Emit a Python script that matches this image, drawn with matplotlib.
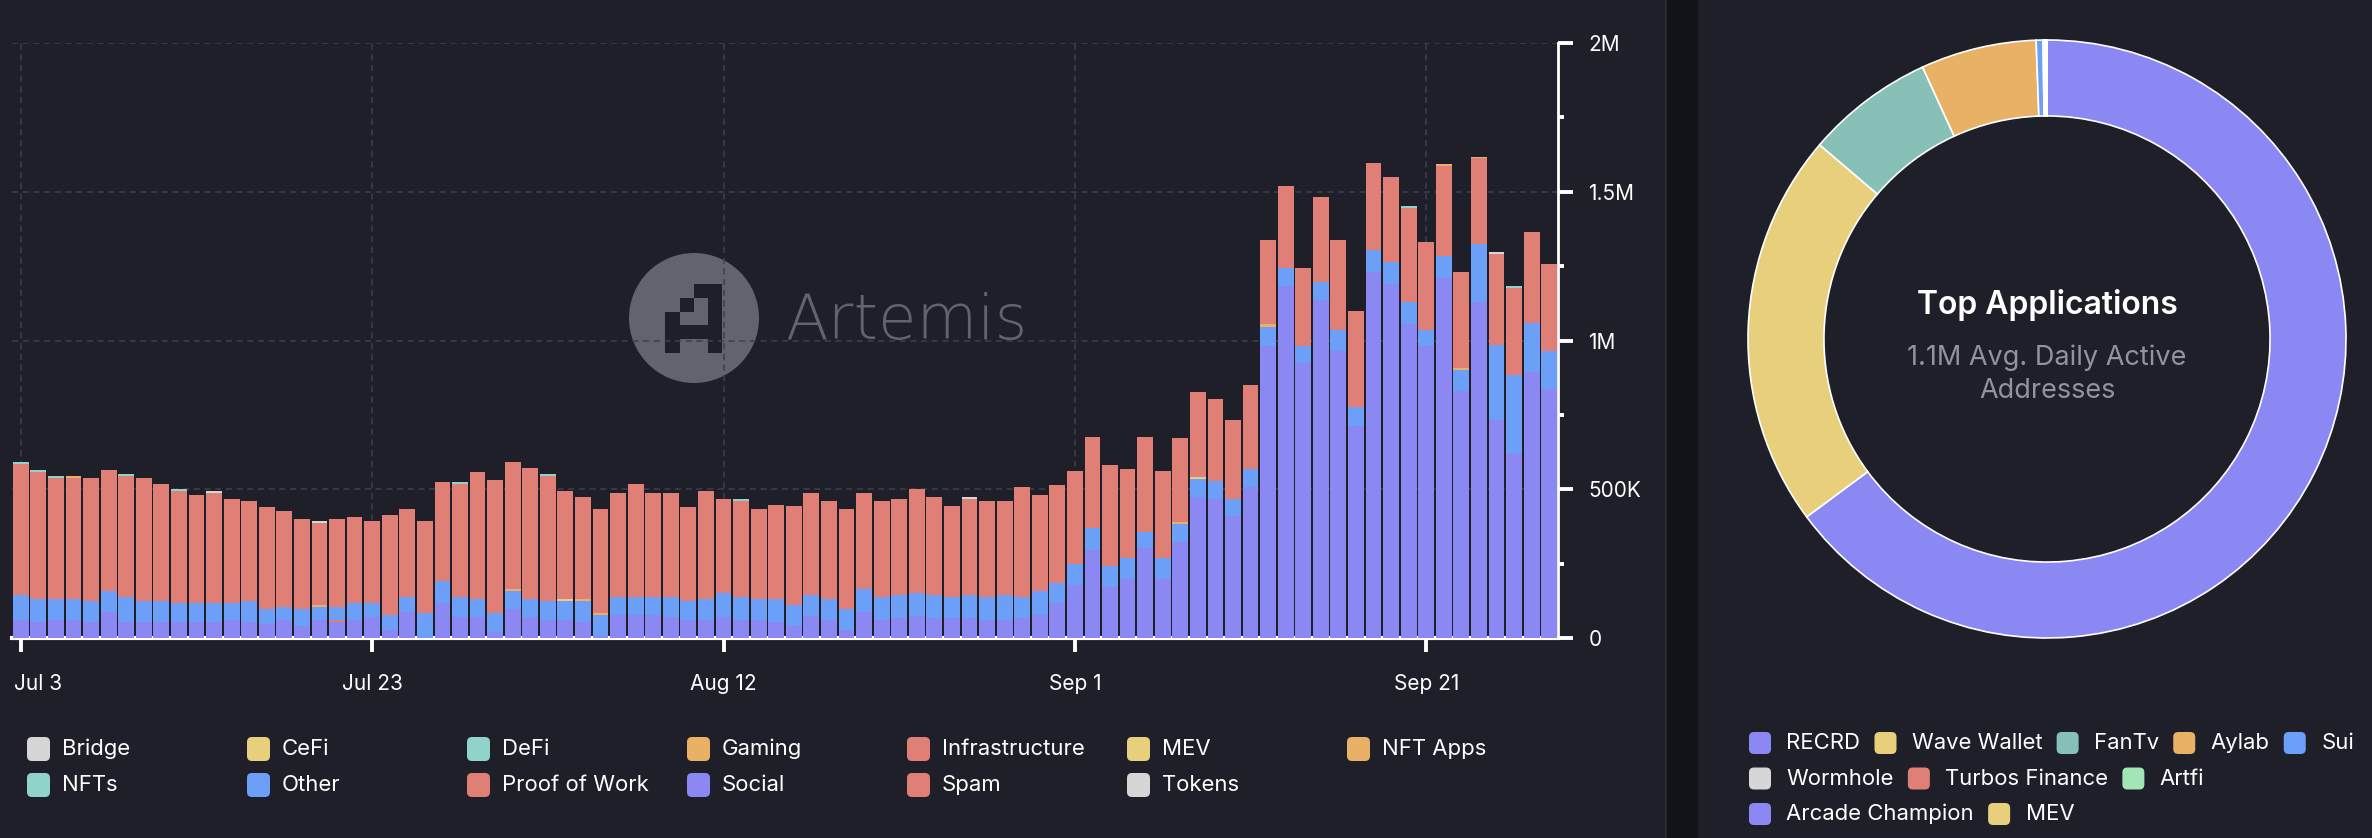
import numpy as np
import pandas as pd
import matplotlib
matplotlib.use("Agg")
import matplotlib.pyplot as plt
from matplotlib.patches import Circle, Rectangle, FancyBboxPatch
from matplotlib.ticker import FuncFormatter, MultipleLocator
from matplotlib.transforms import ScaledTranslation

plt.rcParams['font.family'] = ['Inter', 'DejaVu Sans']

BG = '#1e1f29'

# daily active addresses by category, thousands (Jul 3 .. Sep 28)
dates = pd.date_range('2024-07-03', '2024-09-28', freq='D')

social = [62, 55, 62, 62, 55, 89, 55, 55, 55, 55, 55, 55, 62, 55, 48, 62, 41, 62, 55, 62,
          69, 28, 89, 0, 117, 69, 69, 21, 96, 69, 62, 62, 55, 7, 76, 76, 76, 69, 62, 62,
          69, 62, 62, 55, 41, 75, 62, 27, 89, 62, 68, 75, 68, 68, 68, 62, 62, 68, 77, 117,
          179, 295, 172, 200, 302, 200, 323, 473, 466, 411, 507, 980, 1183, 926, 1135, 966,
          711, 1230, 1190, 1054, 980, 1210, 831, 1128, 732, 623, 895, 838]
other = [83, 76, 69, 69, 69, 69, 83, 69, 69, 62, 62, 62, 55, 69, 48, 41, 55, 41, 41, 55,
         48, 48, 49, 83, 76, 69, 62, 62, 62, 62, 62, 62, 69, 69, 62, 62, 62, 69, 62, 69,
         82, 76, 69, 76, 69, 69, 68, 69, 75, 75, 76, 76, 76, 69, 76, 75, 82, 69, 82, 69,
         69, 75, 69, 68, 55, 68, 61, 61, 61, 55, 61, 67, 60, 54, 61, 68, 67, 74, 73, 74,
         54, 73, 69, 196, 253, 262, 165, 128]
spam = [440, 426, 406, 406, 413, 406, 406, 413, 392, 378, 365, 372, 351, 337, 344, 324, 303, 275, 296, 289,
        275, 337, 295, 309, 330, 378, 426, 447, 427, 440, 420, 364, 344, 350, 351, 378, 351, 351, 316, 364,
        317, 323, 302, 316, 335, 342, 329, 336, 322, 322, 322, 349, 329, 308, 322, 322, 315, 370, 321, 328,
        314, 307, 341, 300, 320, 294, 280, 286, 278, 266, 284, 283, 275, 263, 288, 303, 322, 294, 288, 316,
        296, 302, 324, 288, 305, 291, 304, 291]

# small categories, only on the days they show up
infrastructure = {'Jul 21': 7}
mev = {'Aug 3': 7, 'Sep 8': 7}
gaming = {'Jul 20': 7, 'Jul 31': 7, 'Aug 4': 7, 'Aug 5': 7, 'Sep 7': 7, 'Sep 12': 7, 'Sep 23': 7}
nfts = {'Jul 3': 7, 'Jul 4': 7, 'Jul 5': 7, 'Jul 9': 6, 'Jul 12': 7, 'Jul 28': 7, 'Aug 2': 6,
        'Aug 13': 7, 'Sep 20': 7, 'Sep 26': 7}
tokens = {'Jul 14': 6, 'Jul 20': 7, 'Aug 26': 7, 'Sep 25': 7}
nft_apps = {'Jul 6': 7, 'Sep 22': 7, 'Sep 24': 6}

# donut: share of top applications (%)
apps = ['RECRD', 'Wave Wallet', 'FanTv', 'Aylab', 'Sui', 'Wormhole', 'Turbos Finance',
        'Artfi', 'Arcade Champion', 'MEV']
app_share = [64.86, 21.39, 6.92, 6.25, 0.37, 0.05, 0.05, 0.04, 0.04, 0.03]
app_colors = ['#8b88f3', '#e8cf7c', '#86c0b6', '#e8b166', '#6c9ff8', '#d6d6d6', '#e07f75',
              '#a3e6b5', '#8b88f3', '#e8cf7c']

legend_names = ['Bridge', 'CeFi', 'DeFi', 'Gaming', 'Infrastructure', 'MEV', 'NFT Apps',
                'NFTs', 'Other', 'Proof of Work', 'Social', 'Spam', 'Tokens']
legend_colors = ['#d6d6d6', '#e8cf7c', '#8fd3cb', '#e8b166', '#e07f75', '#e8cf7c', '#e8b166',
                 '#8fd3cb', '#6c9ff8', '#e07f75', '#8b88f3', '#e07f75', '#d6d6d6']


def expand(sparse):
    out = np.zeros(len(dates))
    for k, v in sparse.items():
        d = pd.to_datetime('2024 ' + k, format='%Y %b %d')
        out[dates.get_loc(d)] = v
    return out


layers = [
    ('Social', np.array(social, float), '#8b88f3'),
    ('Infrastructure', expand(infrastructure), '#e07f75'),
    ('Other', np.array(other, float), '#6c9ff8'),
    ('MEV', expand(mev), '#e8cf7c'),
    ('Gaming', expand(gaming), '#e8b166'),
    ('Spam', np.array(spam, float), '#e07f75'),
    ('NFTs', expand(nfts), '#8fd3cb'),
    ('Tokens', expand(tokens), '#d6d6d6'),
    ('NFT Apps', expand(nft_apps), '#e8b166'),
]

W, H = 2372, 838
fig = plt.figure(figsize=(W / 100, H / 100), dpi=100, facecolor=BG)

# background layer in pixel coordinates
bg = fig.add_axes([0, 0, 1, 1], zorder=0)
bg.set_xlim(0, W)
bg.set_ylim(H, 0)
bg.axis('off')
bg.add_patch(Rectangle((1666, 0), 32, H, fc='#121318', ec='none'))
bg.plot([1666, 1666], [0, H], color='#2b2c36', lw=1.2)

# watermark
wm = '#62636d'
bg.add_patch(Circle((694, 318), 65, fc=wm, ec='none'))
a_pixels = ["..##", ".#.#", "#..#", "####", "#..#"]
for r, row in enumerate(a_pixels):
    for c, ch in enumerate(row):
        if ch == '#':
            bg.add_patch(Rectangle((665.3 + c * 14.2, 284 + r * 13.8), 14.2, 13.8, fc=BG, ec='none'))
bg.text(785, 339, 'Artemis', fontsize=45, color=wm, va='baseline', ha='left',
        family=['DejaVu Sans'], fontweight='light')

# stacked bars
ax = fig.add_axes([12 / W, (H - 638) / H, 1546 / W, 595 / H], zorder=1)
ax.set_facecolor('none')
bottom = np.zeros(len(dates))
for name, vals, col in layers:
    ax.bar(dates, vals * 1000, bottom=bottom * 1000, width=0.9, color=col, linewidth=0, zorder=3)
    bottom += vals

ax.set_xlim(dates[0] - pd.Timedelta(hours=12), dates[-1] + pd.Timedelta(hours=12))
ax.set_ylim(0, 2_000_000)
ax.yaxis.tick_right()
ax.yaxis.set_major_locator(MultipleLocator(500_000))
ax.yaxis.set_minor_locator(MultipleLocator(250_000))


def fmt(v, _):
    if v == 0:
        return '0'
    if v >= 1e6:
        return f'{v / 1e6:g}M'
    return f'{v / 1e3:g}K'


ax.yaxis.set_major_formatter(FuncFormatter(fmt))
ticks = dates[::20]
ax.set_xticks(ticks)
ax.set_xticklabels([f'{d:%b} {d.day}' for d in ticks])

ax.tick_params(axis='y', which='major', length=11, width=2.8, colors='white', pad=11, labelsize=15)
ax.tick_params(axis='y', which='minor', length=4.5, width=2.8, colors='white')
ax.tick_params(axis='x', length=10, width=2.8, colors='white', pad=16, labelsize=15)
for s in ['top', 'left']:
    ax.spines[s].set_visible(False)
ax.spines['bottom'].set_color('white')
ax.spines['bottom'].set_linewidth(3)
ax.spines['right'].set_color('white')
ax.spines['right'].set_linewidth(2)
ax.grid(True, which='major', color='#3c3f4e', linestyle=(0, (4, 3)), linewidth=1.1, zorder=0)
ax.set_axisbelow(True)

first = ax.get_xticklabels()[0]
first.set_ha('left')
first.set_transform(first.get_transform() + ScaledTranslation(-0.07, 0, fig.dpi_scale_trans))

# left legend
for i, (n, c) in enumerate(zip(legend_names, legend_colors)):
    r, col = divmod(i, 7)
    x0 = 27 + col * 220
    yc = 749 + r * 36
    bg.add_patch(FancyBboxPatch((x0, yc - 12), 23, 24, boxstyle='round,pad=0,rounding_size=5',
                                fc=c, ec='none'))
    bg.text(x0 + 35, yc, n, color='white', fontsize=15.9, va='center', ha='left')

# donut
cx, cy, R = 2047, 339, 299
dax = fig.add_axes([(cx - R) / W, (H - cy - R) / H, 2 * R / W, 2 * R / H], zorder=2)
wedges, _ = dax.pie(app_share, colors=app_colors, startangle=90, counterclock=False, radius=1,
                    wedgeprops=dict(width=0.254, edgecolor='white', linewidth=1.2))
for w in wedges:
    w.set_clip_on(False)
dax.set_xlim(-1, 1)
dax.set_ylim(-1, 1)
dax.set_aspect('equal')
dax.axis('off')

bg.text(cx, 305, 'Top Applications', color='white', fontsize=23, fontweight='semibold',
        ha='center', va='center')
bg.text(cx, 358, '1.1M Avg. Daily Active', color='#92939d', fontsize=19.5, ha='center', va='center')
bg.text(cx, 391, 'Addresses', color='#92939d', fontsize=19.5, ha='center', va='center')

# right legend, wrapped rows
renderer = fig.canvas.get_renderer()
x, yc = 1749, 743
for n, c in zip(apps, app_colors):
    t = bg.text(0, 0, n, color='white', fontsize=15.9, va='center', ha='left')
    tw = t.get_window_extent(renderer).width
    if x + 37.5 + tw > 2365:
        x = 1749
        yc += 35.5
    t.set_position((x + 37.5, yc))
    bg.add_patch(FancyBboxPatch((x, yc - 11), 22, 22, boxstyle='round,pad=0,rounding_size=5',
                                fc=c, ec='none'))
    x += 37.5 + tw + 14

fig.savefig('out.png', dpi=100, facecolor=BG)
